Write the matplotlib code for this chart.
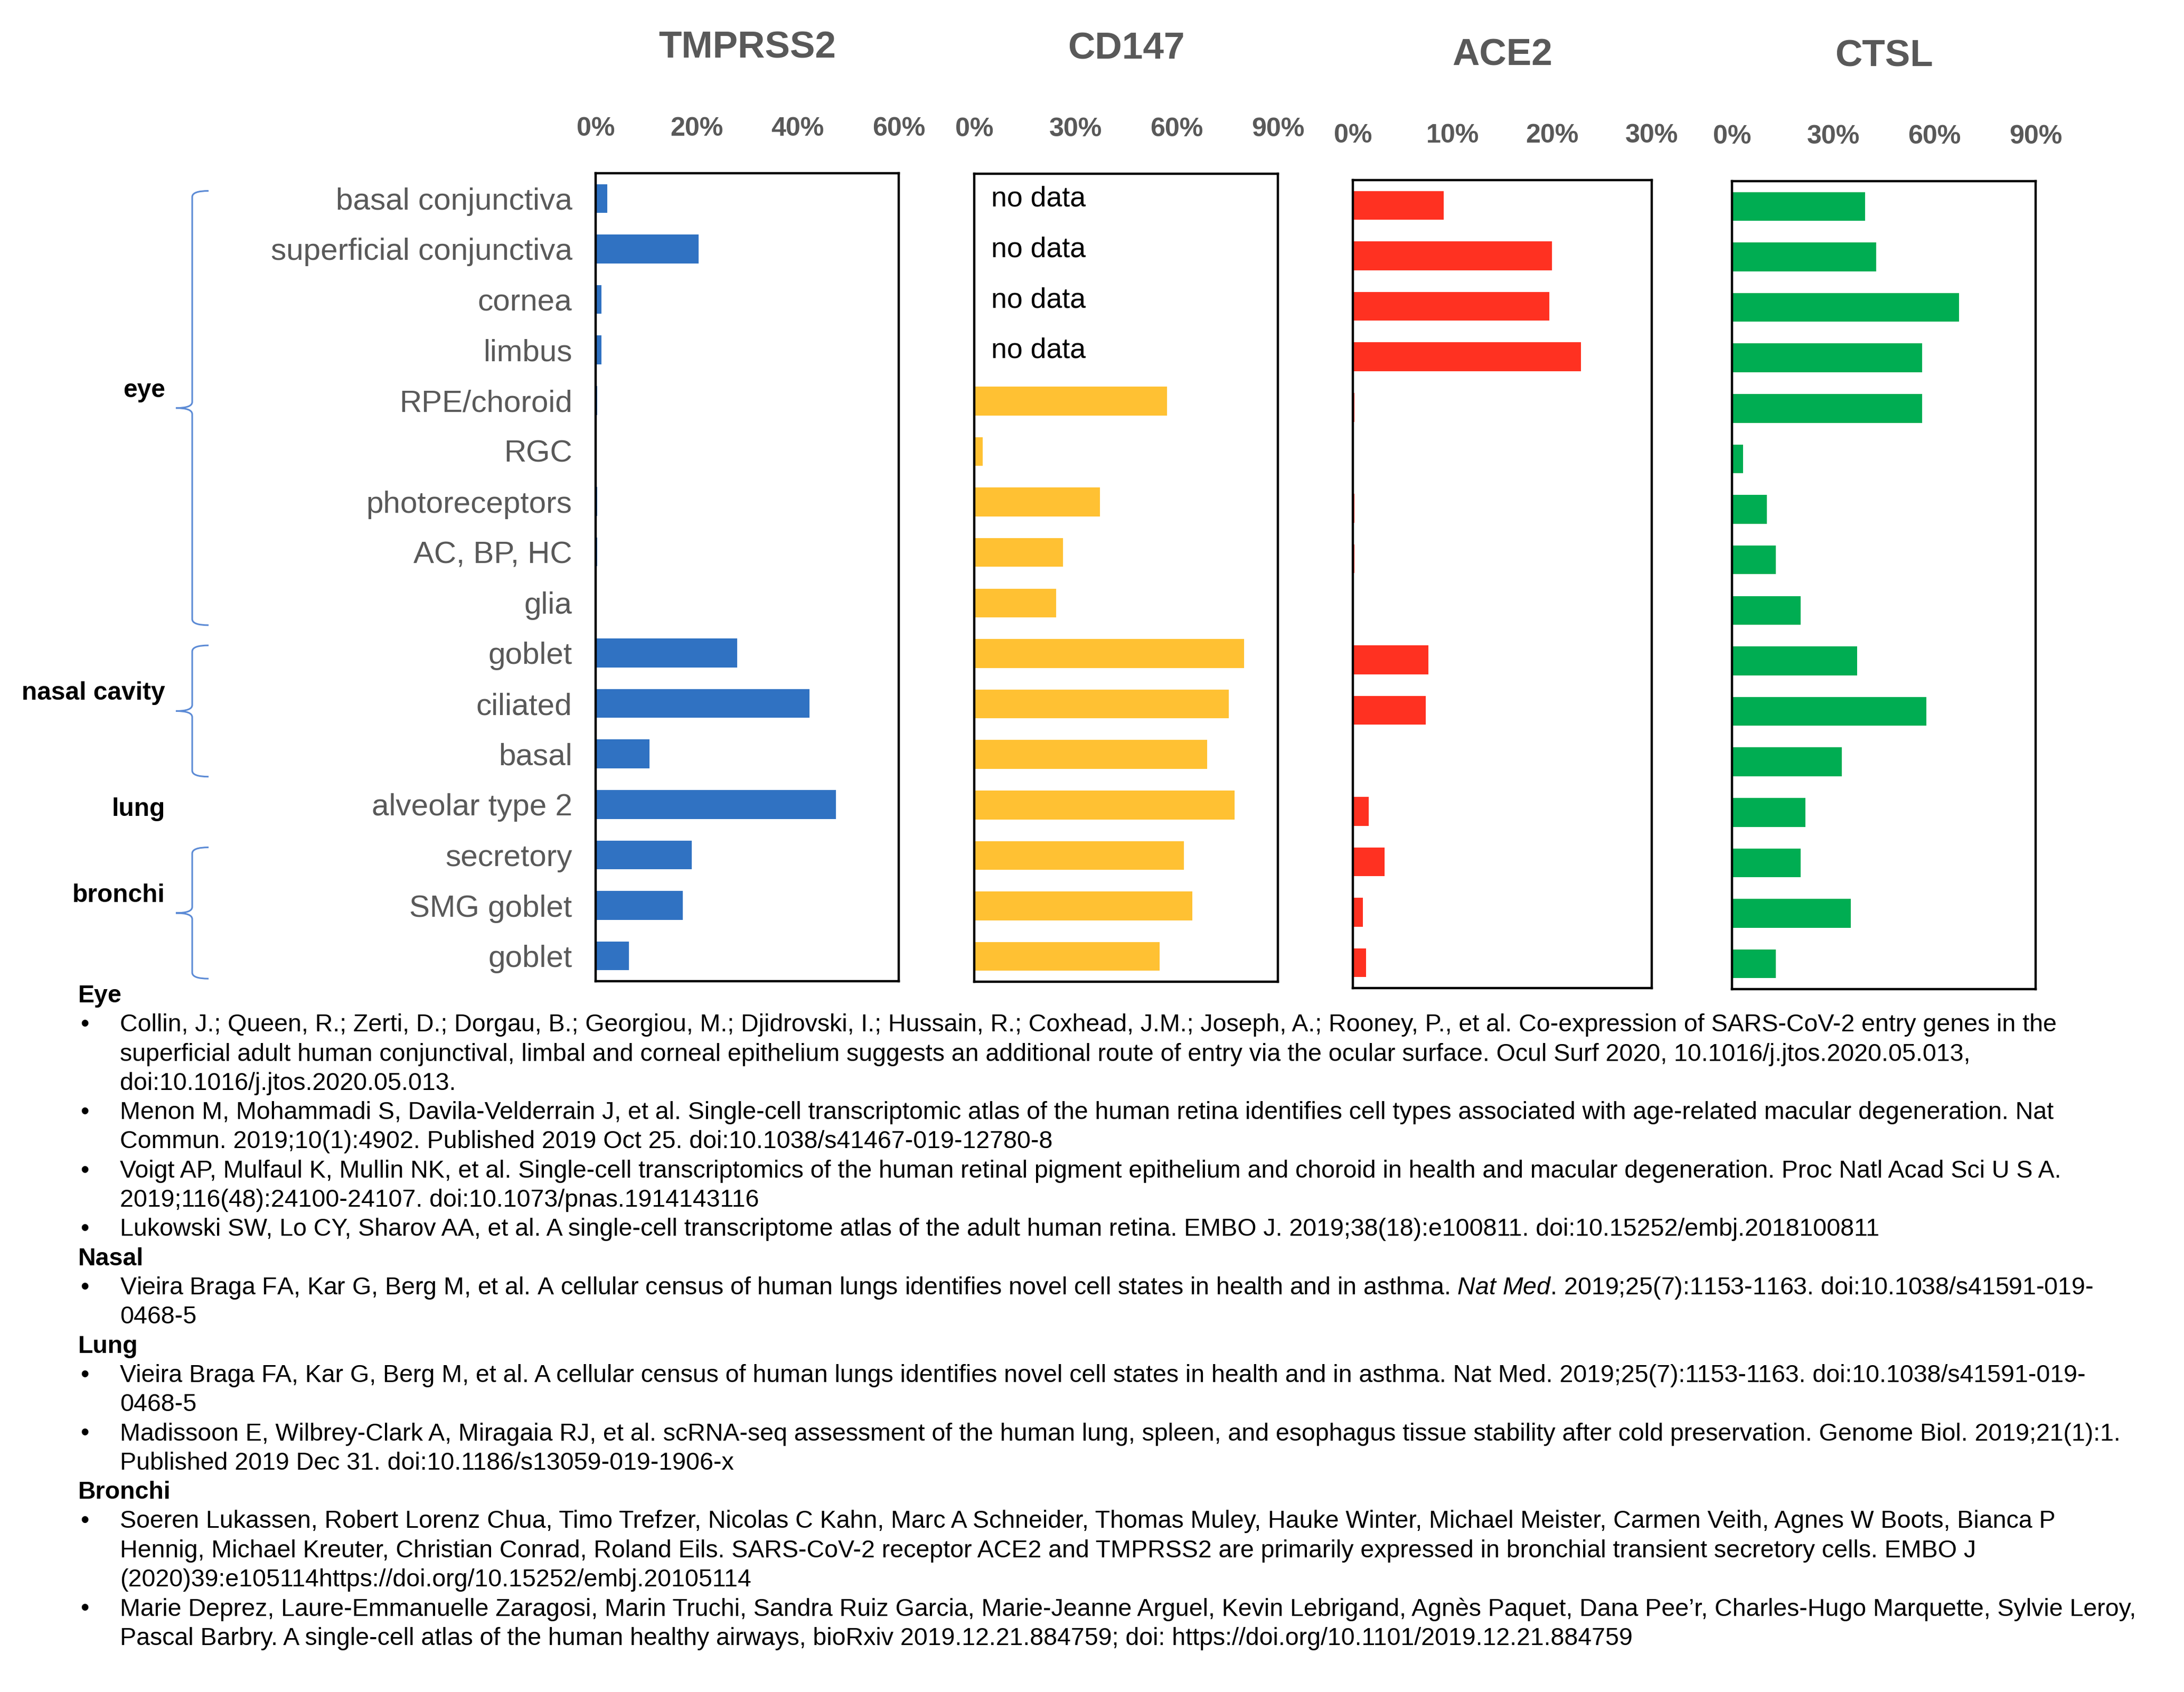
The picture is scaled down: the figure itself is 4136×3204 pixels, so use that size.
import numpy as np
import matplotlib
matplotlib.use("Agg")
import matplotlib.pyplot as plt
from matplotlib import font_manager
from matplotlib.path import Path
from matplotlib.patches import PathPatch
from matplotlib.ticker import PercentFormatter
import matplotlib.transforms as mtransforms

# ---- data (% of cells expressing) ----
cells = ['basal conjunctiva', 'superficial conjunctiva', 'cornea', 'limbus',
         'RPE/choroid', 'RGC', 'photoreceptors', 'AC, BP, HC', 'glia',
         'goblet', 'ciliated', 'basal', 'alveolar type 2',
         'secretory', 'SMG goblet', 'goblet']
nan = np.nan
tmprss2 = [2.3, 20.4, 1.2, 1.2, 0.3, 0, 0.3, 0.3, 0, 28.0, 42.3, 10.7, 47.6, 19.0, 17.2, 6.6]
cd147 = [nan, nan, nan, nan, 57.1, 2.5, 37.3, 26.3, 24.2, 80.0, 75.5, 69.0, 77.2, 62.2, 64.6, 55.0]
ace2 = [9.1, 20.0, 19.7, 22.9, 0.15, 0, 0.15, 0.15, 0, 7.6, 7.3, 0, 1.6, 3.2, 1.0, 1.3]
ctsl = [39.4, 42.7, 67.3, 56.3, 56.3, 3.3, 10.3, 13.0, 20.3, 37.1, 57.6, 32.6, 21.7, 20.3, 35.2, 13.0]

genes = ['TMPRSS2', 'CD147', 'ACE2', 'CTSL']
values = [tmprss2, cd147, ace2, ctsl]
xmax = [60, 90, 30, 90]
xstep = [20, 30, 10, 30]
colors = ['#3072C2', '#FFC133', '#FF3121', '#00AD52']

# tissue groups: (label, first row, last row, has brace)
groups = [('eye', 0, 8, True), ('nasal cavity', 9, 11, True),
          ('lung', 12, 12, False), ('bronchi', 13, 15, True)]

ref_sections = [
    ('Eye', [
        ['Collin, J.; Queen, R.; Zerti, D.; Dorgau, B.; Georgiou, M.; Djidrovski, I.; Hussain, R.; Coxhead, J.M.; Joseph, A.; Rooney, P., et al. Co-expression of SARS-CoV-2 entry genes in the',
         'superficial adult human conjunctival, limbal and corneal epithelium suggests an additional route of entry via the ocular surface. Ocul Surf 2020, 10.1016/j.jtos.2020.05.013,',
         'doi:10.1016/j.jtos.2020.05.013.'],
        ['Menon M, Mohammadi S, Davila-Velderrain J, et al. Single-cell transcriptomic atlas of the human retina identifies cell types associated with age-related macular degeneration. Nat',
         'Commun. 2019;10(1):4902. Published 2019 Oct 25. doi:10.1038/s41467-019-12780-8'],
        ['Voigt AP, Mulfaul K, Mullin NK, et al. Single-cell transcriptomics of the human retinal pigment epithelium and choroid in health and macular degeneration. Proc Natl Acad Sci U S A.',
         '2019;116(48):24100-24107. doi:10.1073/pnas.1914143116'],
        ['Lukowski SW, Lo CY, Sharov AA, et al. A single-cell transcriptome atlas of the adult human retina. EMBO J. 2019;38(18):e100811. doi:10.15252/embj.2018100811'],
    ]),
    ('Nasal', [
        ['Vieira Braga FA, Kar G, Berg M, et al. A cellular census of human lungs identifies novel cell states in health and in asthma. $\\mathit{Nat\\ Med}$. 2019;25(7):1153-1163. doi:10.1038/s41591-019-',
         '0468-5'],
    ]),
    ('Lung', [
        ['Vieira Braga FA, Kar G, Berg M, et al. A cellular census of human lungs identifies novel cell states in health and in asthma. Nat Med. 2019;25(7):1153-1163. doi:10.1038/s41591-019-',
         '0468-5'],
        ['Madissoon E, Wilbrey-Clark A, Miragaia RJ, et al. scRNA-seq assessment of the human lung, spleen, and esophagus tissue stability after cold preservation. Genome Biol. 2019;21(1):1.',
         'Published 2019 Dec 31. doi:10.1186/s13059-019-1906-x'],
    ]),
    ('Bronchi', [
        ['Soeren Lukassen, Robert Lorenz Chua, Timo Trefzer, Nicolas C Kahn, Marc A Schneider, Thomas Muley, Hauke Winter, Michael Meister, Carmen Veith, Agnes W Boots, Bianca P',
         'Hennig, Michael Kreuter, Christian Conrad, Roland Eils. SARS-CoV-2 receptor ACE2 and TMPRSS2 are primarily expressed in bronchial transient secretory cells. EMBO J',
         '(2020)39:e105114https://doi.org/10.15252/embj.20105114'],
        ['Marie Deprez, Laure-Emmanuelle Zaragosi, Marin Truchi, Sandra Ruiz Garcia, Marie-Jeanne Arguel, Kevin Lebrigand, Agn\u00e8s Paquet, Dana Pee\u2019r, Charles-Hugo Marquette, Sylvie Leroy,',
         'Pascal Barbry. A single-cell atlas of the human healthy airways, bioRxiv 2019.12.21.884759; doi: https://doi.org/10.1101/2019.12.21.884759'],
    ]),
]

# ---- fonts ----
names = {f.name for f in font_manager.fontManager.ttflist}
if 'Liberation Sans Narrow' in names:
    narrow, nscale = 'Liberation Sans Narrow', 1.0
else:
    narrow, nscale = 'Liberation Sans', 0.84
plt.rcParams['font.family'] = ['Liberation Sans', 'DejaVu Sans']
plt.rcParams['mathtext.fontset'] = 'custom'
plt.rcParams['mathtext.it'] = 'Liberation Sans:italic'
plt.rcParams['mathtext.rm'] = 'Liberation Sans'

GREY = '#595959'
REF_FS = 33.5
W, H = 4136, 3204
fig = plt.figure(figsize=(W / 100, H / 100), dpi=100)

# panel boxes in pixels: left, top, right
boxes = [(1128, 328, 1702), (1845, 329, 2420), (2562, 341, 3128), (3280, 343, 3855)]
box_h = 1530

axes = []
for i, gene in enumerate(genes):
    l, t, r = boxes[i]
    ax = fig.add_axes([l / W, 1 - (t + box_h) / H, (r - l) / W, box_h / H])
    y = np.arange(len(cells))
    ax.barh(y, values[i], height=0.57, color=colors[i])
    ax.set_xlim(0, xmax[i])
    ax.set_ylim(len(cells) - 0.5, -0.5)
    ax.set_xticks(np.arange(0, xmax[i] + 1, xstep[i]))
    ax.xaxis.set_major_formatter(PercentFormatter(decimals=0))
    ax.tick_params(axis='x', top=True, labeltop=True, bottom=False, labelbottom=False,
                   length=0, pad=44, labelsize=43 * nscale, labelcolor=GREY)
    for lab in ax.get_xticklabels():
        lab.set_fontfamily(narrow)
        lab.set_fontweight('bold')
    if i == 0:
        ax.set_yticks(y)
        ax.set_yticklabels(cells, fontfamily=narrow, fontsize=50 * nscale, color=GREY)
        ax.tick_params(axis='y', length=0, pad=32)
    else:
        ax.set_yticks([])
    for sp in ax.spines.values():
        sp.set_linewidth(3.2)
        sp.set_color('black')
    ax.annotate(gene, xy=(0.5, 1), xycoords='axes fraction', xytext=(0, 236 * 0.72),
                textcoords='offset points', ha='center', va='center',
                fontfamily=narrow, fontweight='bold', fontsize=61 * nscale, color=GREY)
    # rows without data
    for j, v in enumerate(values[i]):
        if np.isnan(v):
            ax.text(0.055 * xmax[i], j, 'no data', va='center', ha='left',
                    fontfamily=narrow, fontsize=46 * nscale, color='black')
    axes.append(ax)

# ---- tissue group labels and braces ----
ax0 = axes[0]
tr = mtransforms.blended_transform_factory(fig.transFigure, ax0.transData)
xv, xe, xt = 364 / W, 395 / W, 333 / W
for label, a, b, brace in groups:
    if brace:
        top, bot = a - 0.15, b + 0.45
        tip = (top + bot) / 2
        d = 0.12
        verts = [(xe, top), (xv, top), (xv, top + d),
                 (xv, tip - d), (xv, tip), (xt, tip),
                 (xv, tip), (xv, tip + d),
                 (xv, bot - d), (xv, bot), (xe, bot)]
        codes = [Path.MOVETO, Path.CURVE3, Path.CURVE3,
                 Path.LINETO, Path.CURVE3, Path.CURVE3,
                 Path.CURVE3, Path.CURVE3,
                 Path.LINETO, Path.CURVE3, Path.CURVE3]
        fig.add_artist(PathPatch(Path(verts, codes), transform=tr, fill=False,
                                 edgecolor='#5B8AD5', lw=2.2))
        ly = tip - 0.35
    else:
        ly = a + 0.1
    fig.text(313 / W, ly, label, transform=tr, ha='right', va='center',
             fontfamily=narrow, fontweight='bold', fontsize=41 * nscale, color='black')

# ---- references ----
y0, step = 1886, 55.3
k = 0
for head, refs in ref_sections:
    fig.text(148 / W, 1 - (y0 + k * step) / H, head, ha='left', va='center',
             fontsize=REF_FS, fontweight='bold', color='black')
    k += 1
    for ref in refs:
        fig.text(152 / W, 1 - (y0 + k * step) / H, '\u2022', ha='left', va='center',
                 fontsize=REF_FS, color='black')
        for line in ref:
            fig.text(227 / W, 1 - (y0 + k * step) / H, line, ha='left', va='center',
                     fontsize=REF_FS, color='black')
            k += 1

fig.savefig('out.png', dpi=100, facecolor='white')
